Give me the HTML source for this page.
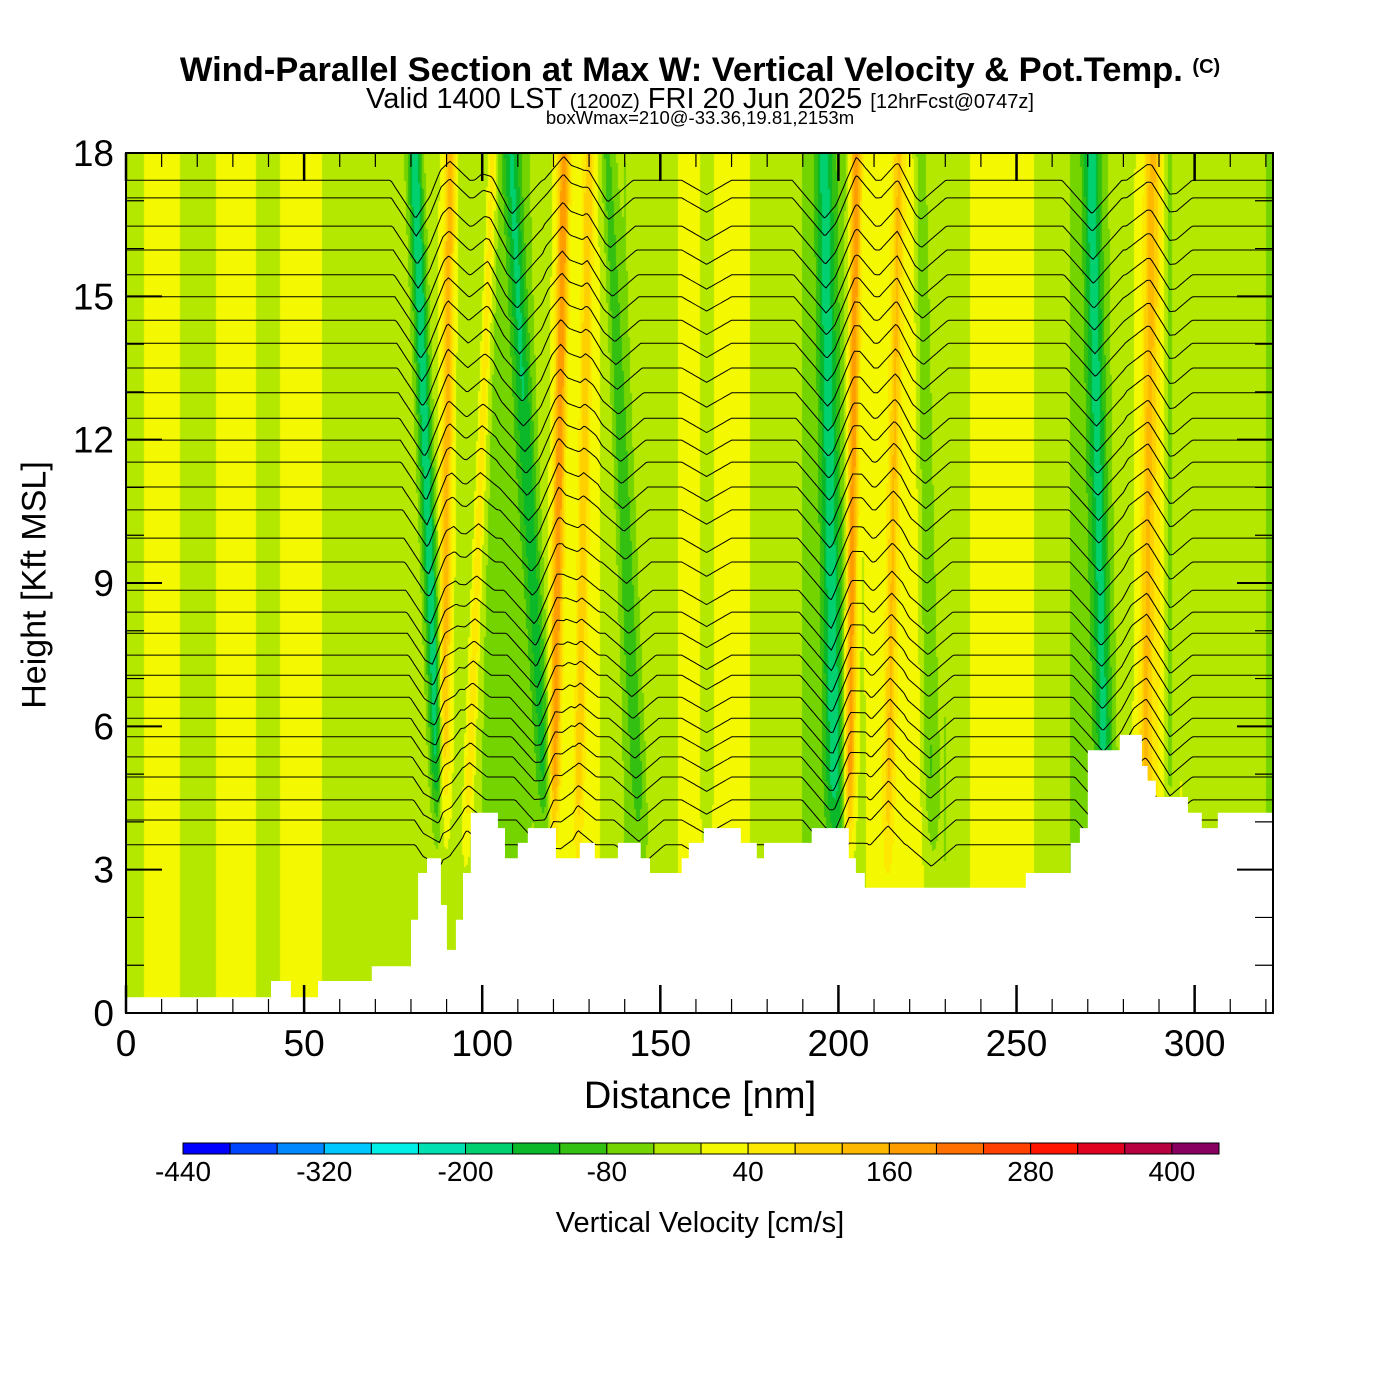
<!DOCTYPE html>
<html><head><meta charset="utf-8"><style>
html,body{margin:0;padding:0;background:#fff;}
#wrap{position:relative;width:1400px;height:1400px;overflow:hidden;font-family:"Liberation Sans",sans-serif;}
.t{position:absolute;white-space:nowrap;color:#000;}
</style></head><body>
<div id="wrap">
<div class="t" style="left:0;width:1400px;text-align:center;top:51px;font-size:34.5px;font-weight:bold;">Wind-Parallel Section at Max W: Vertical Velocity &amp; Pot.Temp. <span style="font-size:20px;vertical-align:8px">(C)</span></div>
<div class="t" style="left:0;width:1400px;text-align:center;top:83px;font-size:29px;">Valid 1400 LST <span style="font-size:20px">(1200Z)</span> FRI 20 Jun 2025 <span style="font-size:20px">[12hrFcst@0747z]</span></div>
<div class="t" style="left:0;width:1400px;text-align:center;top:107px;font-size:18.5px;">boxWmax=210@-33.36,19.81,2153m</div>
<canvas id="field" width="1147" height="860" style="position:absolute;left:126px;top:153px;"></canvas>
<svg id="svg" width="1400" height="1400" style="position:absolute;left:0;top:0;"></svg>
<div class="t" style="left:0;width:1400px;text-align:center;top:1075px;font-size:38px;">Distance [nm]</div>
<div class="t" style="left:35px;top:585px;font-size:34px;transform:translate(-50%,-50%) rotate(-90deg);">Height [Kft MSL]</div>
<div class="t" style="left:0;width:1400px;text-align:center;top:1207px;font-size:29px;">Vertical Velocity [cm/s]</div>
</div>
<script>
// ---- data ----
const binColors=["#0000ff","#0044ff","#0088ff","#00c8ff","#00f0e8","#00e0b0","#00d070","#0ab82a","#34c010","#74d400","#b4e800","#f4f800","#fce800","#ffd000","#ffb800","#ff9c00","#ff7000","#ff4000","#ff1400","#e00020","#b80040","#880060"];
const cbTicks=[-440,-320,-200,-80,40,160,280,400];
const xTicks=[0,50,100,150,200,250,300];
const yTicks=[0,3,6,9,12,15,18];
// background w (cm/s) every 10 nm
const baseW=[-20,20,-20,20,-10,20,-20,-20,-20,0,-40,-60,0,20,-40,-20,20,20,-20,-40,-60,20,30,-40,20,20,-20,-60,-20,40,-20,-20,-40];
// bands: x at 4kft, x at 18kft (nm), peak w, half-width nm, line displacement kft
const bandXb=[88,89,96,118,120,127,144,163,199,203,214,226,275,286,293];
const bandXt=[81,91,103,108,123,130,135,163,196,205,217,223,271,288,293];
const bandW=[-180,140,100,-110,190,100,-80,-60,-130,210,100,-70,-130,110,-70];
const bandWid=[2,1.6,1.4,2.4,1.6,1.4,2,2,2.6,1.6,1.4,2,2.4,2,1.8];
const bandDisp=[-0.8,0.4,0.3,-0.7,0.5,0.3,-0.45,-0.3,-0.8,0.5,0.4,-0.45,-0.7,0.4,-0.4];
// terrain steps: segment start (nm) and height (kft)
const terrX=[0,40.7,46.3,53.9,69.0,80.0,82.0,84.5,88.4,90.1,92.6,94.6,96.8,104.4,106.4,110.0,112.8,120.7,127.4,131.6,138.1,144.5,147.1,156.0,158.0,162.2,172.6,177.1,179.1,192.5,202.9,204.9,207.4,252.6,265.2,267.8,270.0,279.0,285.2,286.8,289.1,298.1,302.0,306.5];
const terrH=[0.33,0.67,0.33,0.67,0.98,1.95,2.93,3.24,2.26,1.32,1.95,2.93,4.19,3.87,3.24,3.56,3.87,3.24,3.56,3.24,3.56,3.24,2.93,3.24,3.56,3.87,3.56,3.24,3.56,3.87,3.24,2.93,2.62,2.93,3.56,3.87,5.50,5.82,5.17,4.86,4.52,4.19,3.87,4.19];
// potential temperature contour base heights (kft)
const thetaLevels=[17.43,17.06,16.47,15.97,15.45,14.99,14.50,14.02,13.50,12.98,12.45,11.99,11.53,11.01,10.53,9.94,9.44,8.85,8.39,7.95,7.49,7.07,6.61,6.17,5.78,5.36,4.94,4.46,4.04,3.52];

// ---- axes ----
const X0=126,X1=1273,Y0=1013,Y1=153,XMAX=322;
const sx=v=>X0+v*(X1-X0)/XMAX;
const sy=v=>Y0-v*(Y0-Y1)/18;
function bandX(i,z){return bandXb[i]+(bandXt[i]-bandXb[i])*(z-4)/14;}
function baseAt(x){let f=x/10,i=Math.min(Math.floor(f),baseW.length-2),t=f-i;return baseW[i]*(1-t)+baseW[i+1]*t;}
function wAt(x,z){let w=baseAt(x);for(let i=0;i<bandW.length;i++){let d=(x-bandX(i,z))/bandWid[i];let vf=Math.min(1,Math.max(0,(z-2.5)/2.5));w+=bandW[i]*Math.exp(-d*d)*vf;}return w;}

// field
const cv=document.getElementById('field'),ctx=cv.getContext('2d');
const img=ctx.createImageData(1147,860);
const rgb=binColors.map(c=>[parseInt(c.substr(1,2),16),parseInt(c.substr(3,2),16),parseInt(c.substr(5,2),16)]);
for(let py=0;py<860;py+=2){const z=18-(py+1)*18/860;for(let px=0;px<1147;px+=2){const x=(px+1)*XMAX/1147;let b=Math.floor((wAt(x,z)+440)/40);b=Math.max(0,Math.min(21,b));const c=rgb[b];for(let dy=0;dy<2;dy++)for(let dx=0;dx<2;dx++){const k=((py+dy)*1147+px+dx)*4;img.data[k]=c[0];img.data[k+1]=c[1];img.data[k+2]=c[2];img.data[k+3]=255;}}}
ctx.putImageData(img,0,0);

const NS="http://www.w3.org/2000/svg";const svg=document.getElementById('svg');
function mk(tag,attrs,parent){const e=document.createElementNS(NS,tag);for(const k in attrs)e.setAttribute(k,attrs[k]);(parent||svg).appendChild(e);return e;}

// theta contours (V-shaped kernel)
const gL=mk('g',{});


thetaLevels.forEach(z0=>{let d='';for(let x=0;x<=XMAX;x+=0.5){let z=z0;for(let i=0;i<bandW.length;i++){let dd=Math.abs(x-bandX(i,z0))/(bandWid[i]*3.5);z+=bandDisp[i]*Math.max(0,1-dd);}d+=(x===0?'M':'L')+sx(x).toFixed(1)+' '+sy(z).toFixed(1);}
 const p=mk('path',{d:d,fill:'none',stroke:'#000','stroke-width':1},gL);
 
 });

// terrain
let td='M'+sx(0)+' '+sy(0);
for(let i=0;i<terrX.length;i++){const xe=i+1<terrX.length?terrX[i+1]:XMAX;td+=' L'+sx(terrX[i]).toFixed(1)+' '+sy(terrH[i]).toFixed(1)+' L'+sx(xe).toFixed(1)+' '+sy(terrH[i]).toFixed(1);}
td+=' L'+sx(XMAX)+' '+sy(0)+' Z';
const tp=mk('path',{d:td,fill:'#fff',stroke:'none'});



// frame & ticks
const fr=mk('rect',{x:X0,y:Y1,width:X1-X0,height:Y0-Y1,fill:'none',stroke:'#000','stroke-width':2});


for(let v=0;v<=XMAX;v+=10){const maj=v%50===0,L=maj?28:14;mk('line',{x1:sx(v),x2:sx(v),y1:Y0,y2:Y0-L,stroke:'#000','stroke-width':maj?2.5:1.2});mk('line',{x1:sx(v),x2:sx(v),y1:Y1,y2:Y1+L,stroke:'#000','stroke-width':maj?2.5:1.2});}
for(let v=0;v<=18;v++){const maj=v%3===0,L=maj?36:18;mk('line',{x1:X0,x2:X0+L,y1:sy(v),y2:sy(v),stroke:'#000','stroke-width':maj?2:1.2});mk('line',{x1:X1,x2:X1-L,y1:sy(v),y2:sy(v),stroke:'#000','stroke-width':maj?2:1.2});}
xTicks.forEach(v=>{const t=mk('text',{x:sx(v),y:1056,'font-size':37,'text-anchor':'middle','font-family':'Liberation Sans, sans-serif'});t.textContent=v;
 
 });
yTicks.forEach(v=>{const t=mk('text',{x:114,y:sy(v)+13,'font-size':37,'text-anchor':'end','font-family':'Liberation Sans, sans-serif'});t.textContent=v;
 
 });

// colorbar
const CB0=183,CBW=(1219-183)/22;
binColors.forEach((c,i)=>{const r=mk('rect',{x:CB0+i*CBW,y:1143,width:CBW,height:11,fill:c,stroke:'#000','stroke-width':1});
 
 });
cbTicks.forEach(v=>{const t=mk('text',{x:CB0+(v+440)/40*CBW,y:1181,'font-size':28,'text-anchor':'middle','font-family':'Liberation Sans, sans-serif'});t.textContent=v;
 
 });
</script>
</body></html>
